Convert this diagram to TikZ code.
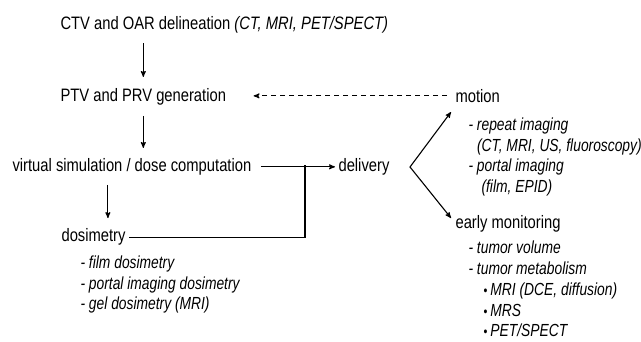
\documentclass[tikz,border=0pt]{standalone}
\usepackage{fontspec}
\setmainfont{Liberation Sans}[FakeStretch=0.82]
\newfontfamily\listfont{Liberation Sans}[FakeStretch=0.79]
\newcommand{\smallbul}{{\upshape\fontsize{14}{14}\selectfont\textbullet}\hspace{3pt}}
\usetikzlibrary{arrows, positioning}

\begin{document}
\begin{tikzpicture}[->,>=stealth',x=1pt,y=-1pt,line width=1.1pt,
                    every node/.style={inner sep=0pt,anchor=base west,
                      font=\fontsize{18}{21.3}\selectfont},
                    sub/.style={align=left,anchor=north west,
                      font=\fontsize{17.5}{20.8}\selectfont\listfont\itshape}]
   \useasboundingbox (0,0) rectangle (641,341);
   \node (ctv)  at (60,29)    {CTV and OAR delineation \textit{(CT, MRI, PET/SPECT)}};
   \node (ptv)  at (60,101.5) {PTV and PRV generation};
   \node (sim)  at (12,171.5) {virtual simulation / dose computation};
   \node (dosi) at (61,241.7) {dosimetry};
   \node (del)  at (338,171.5) {delivery};
   \node (mot)  at (455,102.3) {motion};
   \node (mon)  at (455,228)  {early monitoring};
   \node[sub] (dosilist) at (80,255) {- film dosimetry\\- portal imaging dosimetry\\- gel dosimetry (MRI)};
   \node[sub] (motlist)  at (468,117) {- repeat imaging\\\hspace{8.5pt}(CT, MRI, US, fluoroscopy)\\- portal imaging\\\hspace{13pt}(film, EPID)};
   \node[sub] (monlist)  at (468,240.5) {- tumor volume\\- tumor metabolism\\\hspace{15pt}\smallbul MRI (DCE, diffusion)\\\hspace{15pt}\smallbul MRS\\\hspace{15pt}\smallbul PET/SPECT};
   \coordinate (jn)   at (305,165);
   \coordinate (fork) at (410,167);
   \coordinate (mtip) at (451,112);
   \coordinate (etip) at (451,218);
   % main chain
   \draw[shorten <=10pt,shorten >=11pt] (ptv.north |- ctv.south) -- (ptv.north);
   \draw[shorten <=10pt,shorten >=10pt] (ptv.south) -- (ptv.south |- sim.north);
   \draw[shorten <=9pt,shorten >=10pt] ([xshift=-24pt]sim.south) -- ([xshift=-24pt]sim.south |- dosi.north);
   \draw[shorten <=9pt,shorten >=3pt] (sim) -- (del);
   \draw[-,shorten <=3pt] (dosi) -| (jn);
   % feedback and branches
   \draw[dashed,dash pattern=on 5pt off 4pt,shorten <=8pt,shorten >=27pt] (mot.west) -- (ptv.east |- mot.west);
   \draw[<->] (mtip) -- (fork) -- (etip);
\end{tikzpicture}
\end{document}
